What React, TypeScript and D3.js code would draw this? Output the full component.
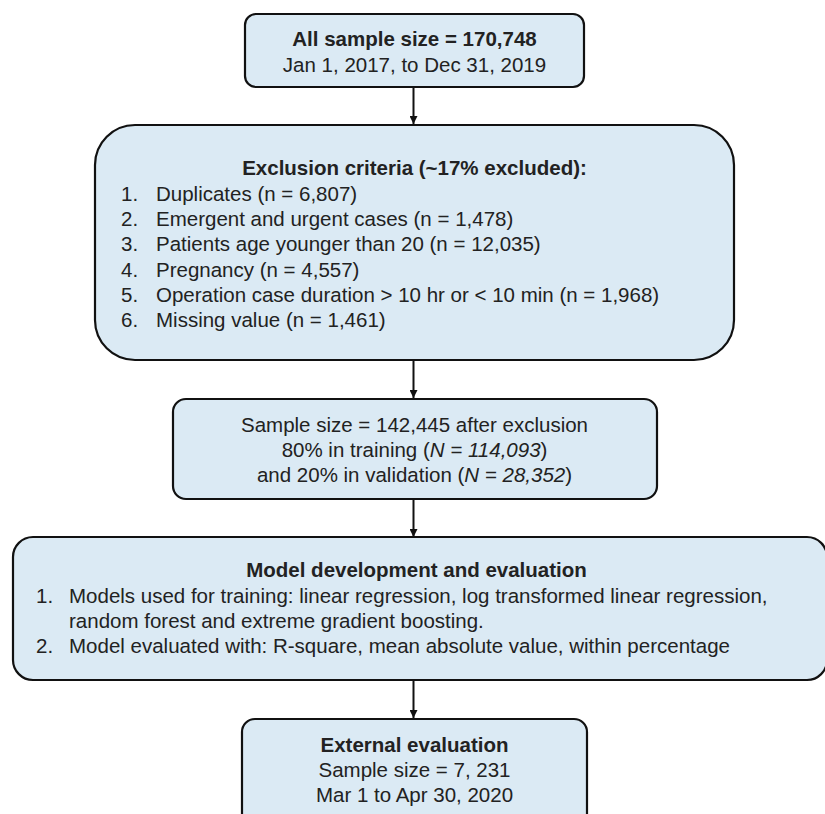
import React, { useEffect, useRef } from "react";
import * as d3 from "d3";

// ---- content ----
const startLines = ["All sample size = 170,748", "Jan 1, 2017, to Dec 31, 2019"];
const exclusionTitle = "Exclusion criteria (~17% excluded):";
const exclusionItems = [
  "Duplicates (n = 6,807)",
  "Emergent and urgent cases (n = 1,478)",
  "Patients age younger than 20 (n = 12,035)",
  "Pregnancy (n = 4,557)",
  "Operation case duration > 10 hr or < 10 min (n = 1,968)",
  "Missing value (n = 1,461)",
];
// segments: [text, italic]
const splitLines: [string, boolean][][] = [
  [["Sample size = 142,445 after exclusion", false]],
  [["80% in training (", false], ["N = 114,093", true], [")", false]],
  [["and 20% in validation (", false], ["N = 28,352", true], [")", false]],
];
const modelTitle = "Model development and evaluation";
const modelItems = [
  ["Models used for training: linear regression, log transformed linear regression,", "random forest and extreme gradient boosting."],
  ["Model evaluated with: R-square, mean absolute value, within percentage"],
];
const externalLines = ["External evaluation", "Sample size = 7, 231", "Mar 1 to Apr 30, 2020"];

const W = 825;
const H = 814;
const FILL = "#dbeaf4";
const STROKE = "#111";
const TEXT = "#222";
const FONT = "'Liberation Sans', Arial, sans-serif";
const FS = 20.5;
const LH = 25.2;
const CX = 414.5;

export default function App() {
  const ref = useRef<SVGSVGElement>(null);
  useEffect(() => {
    const svg = d3.select(ref.current);
    svg.selectAll("*").remove();

    const defs = svg.append("defs");
    defs
      .append("marker")
      .attr("id", "ah")
      .attr("viewBox", "0 0 10 10")
      .attr("refX", 10)
      .attr("refY", 5)
      .attr("markerWidth", 9)
      .attr("markerHeight", 8)
      .attr("markerUnits", "userSpaceOnUse")
      .attr("orient", "auto")
      .append("path")
      .attr("d", "M0,0 L10,5 L0,10 Z")
      .attr("fill", STROKE);

    const box = (x0: number, y0: number, x1: number, y1: number, r: number) =>
      svg
        .append("rect")
        .attr("x", x0)
        .attr("y", y0)
        .attr("width", x1 - x0)
        .attr("height", y1 - y0)
        .attr("rx", r)
        .attr("ry", r)
        .attr("fill", FILL)
        .attr("stroke", STROKE)
        .attr("stroke-width", 2.2);

    const arrow = (y0: number, y1: number) =>
      svg
        .append("path")
        .attr("d", d3.line()([[CX - 1, y0], [CX - 1, y1]]) as string)
        .attr("stroke", STROKE)
        .attr("stroke-width", 2)
        .attr("marker-end", "url(#ah)");

    const text = (x: number, y: number, s: string, opts: { bold?: boolean; anchor?: string } = {}) =>
      svg
        .append("text")
        .attr("x", x)
        .attr("y", y)
        .attr("font-family", FONT)
        .attr("font-size", FS)
        .attr("font-weight", opts.bold ? "bold" : "normal")
        .attr("text-anchor", opts.anchor || "start")
        .attr("fill", TEXT)
        .text(s);

    // arrows
    arrow(87, 124);
    arrow(360, 398);
    arrow(499, 537);
    arrow(680, 718);

    // Box 1
    box(245, 14, 584, 87, 11);
    startLines.forEach((s, i) => text(CX, 46 + i * 26, s, { bold: i === 0, anchor: "middle" }));

    // Box 2
    box(95, 125, 734, 360, 40);
    text(CX, 175, exclusionTitle, { bold: true, anchor: "middle" });
    exclusionItems.forEach((s, i) => {
      const y = 201 + i * LH;
      text(121, y, `${i + 1}.`);
      text(156, y, s);
    });

    // Box 3
    box(173, 399, 657, 499, 13);
    splitLines.forEach((segs, i) => {
      const t = svg
        .append("text")
        .attr("x", CX)
        .attr("y", 432 + i * LH)
        .attr("font-family", FONT)
        .attr("font-size", FS)
        .attr("text-anchor", "middle")
        .attr("fill", TEXT);
      segs.forEach(([s, it]) => {
        t.append("tspan").attr("font-style", it ? "italic" : "normal").text(s);
      });
    });

    // Box 4
    box(13, 537, 827, 680, 20);
    text(CX + 2, 577, modelTitle, { bold: true, anchor: "middle" });
    let row = 0;
    modelItems.forEach((lines, i) => {
      lines.forEach((s, j) => {
        const y = 603 + row * LH;
        if (j === 0) text(36, y, `${i + 1}.`);
        text(69, y, s);
        row++;
      });
    });

    // Box 5
    box(242, 719, 587, 840, 13);
    externalLines.forEach((s, i) => text(CX, 752 + i * LH, s, { bold: i === 0, anchor: "middle" }));
  }, []);

  return (
    <svg
      ref={ref}
      width={W}
      height={H}
      style={{ position: "absolute", left: 0, top: 0, background: "#fff" }}
    />
  );
}
